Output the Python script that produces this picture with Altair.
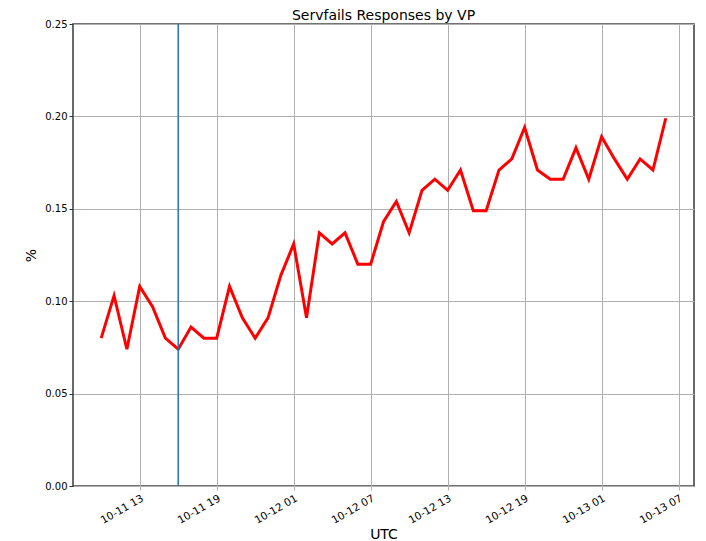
import altair as alt
import pandas as pd

times = pd.date_range("2019-10-11 10:00", periods=45, freq="h")
values = [0.080, 0.103, 0.074, 0.108, 0.097, 0.080, 0.074, 0.086, 0.080, 0.080,
          0.108, 0.091, 0.080, 0.091, 0.114, 0.131, 0.091, 0.137, 0.131, 0.137,
          0.120, 0.120, 0.143, 0.154, 0.137, 0.160, 0.166, 0.160, 0.171, 0.149,
          0.149, 0.171, 0.177, 0.194, 0.171, 0.166, 0.166, 0.183, 0.166, 0.189,
          0.177, 0.166, 0.177, 0.171, 0.199]
marker_time = ["2019-10-11T16:00:00"]
tick_times = ["2019-10-11 13:00", "2019-10-11 19:00", "2019-10-12 01:00", "2019-10-12 07:00",
              "2019-10-12 13:00", "2019-10-12 19:00", "2019-10-13 01:00", "2019-10-13 07:00"]
y_ticks = [0.0, 0.05, 0.10, 0.15, 0.20, 0.25]
chart_title = ["Servfails Responses by VP"]

def ms(s):
    return int(pd.Timestamp(s, tz="UTC").value // 10**6)

df = pd.DataFrame({"t": [t.strftime("%Y-%m-%dT%H:%M:%SZ") for t in times], "v": values})
mk = pd.DataFrame({"t": [m + "Z" for m in marker_time]})
tdf = pd.DataFrame({"label": chart_title})

x_dom = [ms("2019-10-11 07:48"), ms("2019-10-13 08:12")]
font = "DejaVu Sans"

xenc = alt.X("t:T", scale=alt.Scale(type="utc", domain=x_dom),
             axis=alt.Axis(values=[ms(t) for t in tick_times], labelExpr="utcFormat(datum.value, '%m-%d %H')",
                           labelAngle=330, labelAlign="right", labelBaseline="top",
                           title="UTC", titleFontSize=14, titleFontWeight="normal",
                           titlePadding=2, labelPadding=3, labelFontSize=10.5, tickColor="#b0b0b0"))
yenc = alt.Y("v:Q", scale=alt.Scale(domain=[0, 0.25], nice=False, zero=True),
             axis=alt.Axis(values=y_ticks, format=".2f", title="%", titleFontSize=14,
                           titleFontWeight="normal", titlePadding=6, tickColor="#333333"))

line = alt.Chart(df).mark_line(color="#ff0000", strokeWidth=3, strokeJoin="miter").encode(x=xenc, y=yenc)
vline = alt.Chart(mk).mark_rule(color="#1f77b4", strokeWidth=1.5).encode(x="t:T")
title = alt.Chart(tdf).mark_text(font=font, fontSize=14, color="#000000", align="center",
                                 baseline="middle").encode(
    text="label:N", x=alt.value(310.5), y=alt.value(-8))

chart = alt.layer(line, vline, title).properties(
    width=621, height=462,
    autosize=alt.AutoSizeParams(type="none"),
    padding={"left": 65, "top": 16, "right": 4, "bottom": 55},
).configure_view(stroke="#444444", strokeWidth=1.6).configure_axis(
    labelFont=font, titleFont=font, labelFontSize=10, labelColor="#000000", titleColor="#000000",
    grid=True, gridColor="#b0b0b0", gridWidth=1, domain=False,
    tickSize=4, tickWidth=1
)

chart.save("out.html", embed_options={"renderer": "svg", "actions": False})
